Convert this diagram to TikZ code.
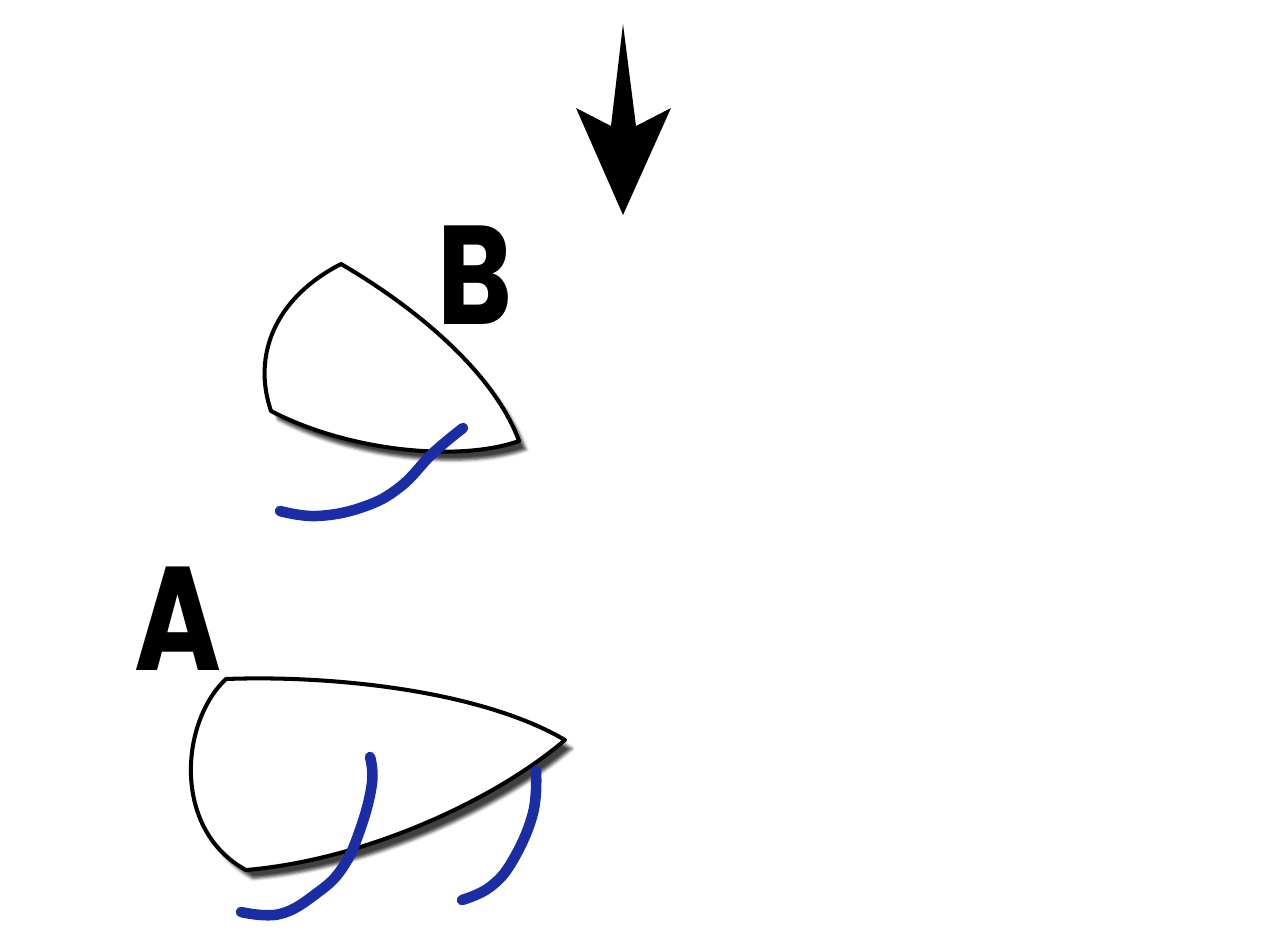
\documentclass[tikz,border=0pt]{standalone}
\usepackage{fontspec}
\setmainfont{Poppins}
\usepackage{tikz}
\usetikzlibrary{shadows,shadows.blur,positioning}

\definecolor{inkblue}{RGB}{27,45,165}

\tikzset{
	outline/.style = {draw=black, line width=2.3pt, fill=white, line join=round,
		blur shadow={shadow xshift=0.14cm, shadow yshift=-0.17cm, shadow blur radius=0.06cm, shadow opacity=75}},
	stroke/.style = {draw=inkblue, line width=6pt, line cap=round, line join=round},
	letter/.style = {inner sep=0pt, font=\bfseries\fontsize{80}{82}\selectfont}
}

\begin{document}
\begin{tikzpicture}[x=0.02cm,y=-0.02cm]
	\useasboundingbox (0,0) rectangle (1267,940);
	% falling arrow
	\fill[black] (623,24) -- (636,126) -- (671,108) -- (623,215) -- (576,108) -- (611,126) -- cycle;
	% shape B
	\draw[outline] (341,264) .. controls (420,310) and (495,375) .. (519,441)
		.. controls (460,462) and (350,452) .. (271,411)
		.. controls (252,355) and (275,298) .. cycle;
	\draw[stroke] plot[smooth, tension=0.7] coordinates {(463,428) (433,453) (400,487) (363,507) (317,516) (280,511)};
	\node[letter, xscale=0.81] (labelB) at (475,275) {B};
	% shape A
	\draw[outline] (226,679) .. controls (330,675) and (480,690) .. (565,740)
		.. controls (495,800) and (365,860) .. (246,870)
		.. controls (172,830) and (180,722) .. cycle;
	\draw[stroke] plot[smooth, tension=0.7] coordinates {(370,757) (372,783) (361,827) (343,867) (317,893) (280,914) (241,912)};
	\draw[stroke] plot[smooth, tension=0.7] coordinates {(536,771) (533,813) (513,860) (490,887) (462,900)};
	\node[letter, xscale=0.80, font=\bfseries\fontsize{84}{86}\selectfont] (labelA) at (178,619) {A};
\end{tikzpicture}
\end{document}
